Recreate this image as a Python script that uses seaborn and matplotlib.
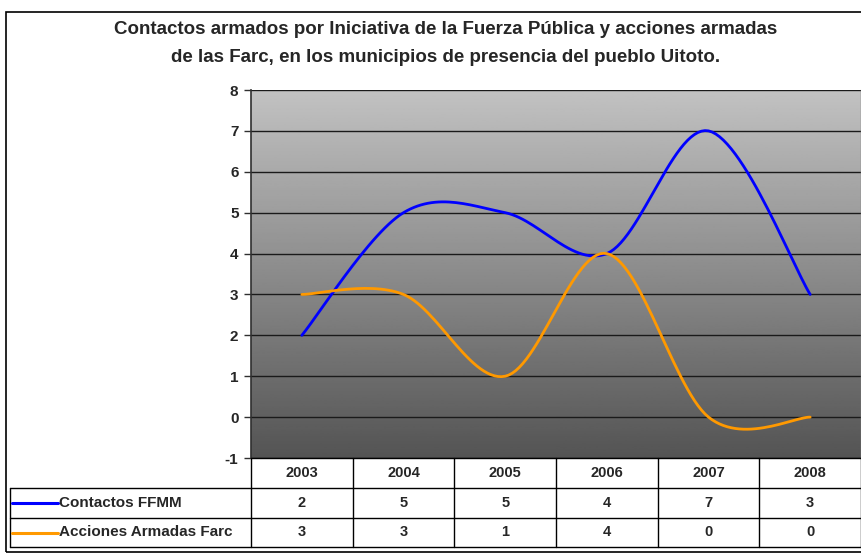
import numpy as np
import pandas as pd
import seaborn as sns
import matplotlib.pyplot as plt
from matplotlib.lines import Line2D
from matplotlib.patches import Rectangle

# data
years = ['2003', '2004', '2005', '2006', '2007', '2008']
contactos = [2, 5, 5, 4, 7, 3]
acciones = [3, 3, 1, 4, 0, 0]
series_names = ['Contactos FFMM', 'Acciones Armadas Farc']
series_colors = ['#0000FF', '#FF9900']
title_lines = ['Contactos armados por Iniciativa de la Fuerza Pública y acciones armadas',
               'de las Farc, en los municipios de presencia del pueblo Uitoto.']

sns.set_style('white')
plt.rcParams['font.family'] = ['Liberation Sans', 'DejaVu Sans']

W, H = 862, 554
fig = plt.figure(figsize=(W / 100, H / 100), dpi=100)


def fx(px):
    return px / W


def fy(py):
    return 1 - py / H


# plot area in pixels
L, R, T, B = 251, 861, 90, 458
ax = fig.add_axes([fx(L), fy(B), fx(R - L), fy(T) - fy(B)])


def smooth(xs, ys, n=30):
    # excel-style smoothed line (catmull-rom bezier)
    p = np.column_stack([xs, ys]).astype(float)
    p = np.vstack([p[0], p, p[-1]])
    out = []
    for i in range(1, len(p) - 2):
        p0, p1, p2, p3 = p[i - 1], p[i], p[i + 1], p[i + 2]
        b1 = p1 + (p2 - p0) / 6
        b2 = p2 - (p3 - p1) / 6
        t = np.linspace(0, 1, n)[:, None]
        seg = ((1 - t) ** 3) * p1 + 3 * ((1 - t) ** 2) * t * b1 + 3 * (1 - t) * t ** 2 * b2 + t ** 3 * p2
        out.append(seg if i == 1 else seg[1:])
    return np.vstack(out)


xpos = np.arange(len(years)) + 0.5
frames = []
for name, vals in zip(series_names, [contactos, acciones]):
    c = smooth(xpos, vals)
    frames.append(pd.DataFrame({'x': c[:, 0], 'y': c[:, 1], 'serie': name}))
df = pd.concat(frames, ignore_index=True)

# gradient background
grad = np.linspace(0.76, 0.33, 256)[:, None]
ax.imshow(grad, cmap='gray', vmin=0, vmax=1, aspect='auto',
          extent=[0, len(years), -1, 8], zorder=0)

for v in range(-1, 9):
    ax.axhline(v, color='#1a1a1a', lw=1.0, zorder=1)

sns.lineplot(data=df, x='x', y='y', hue='serie', palette=series_colors,
             sort=False, estimator=None, units='serie', lw=2.0, ax=ax,
             legend=False, zorder=3)

ax.set_xlim(0, len(years))
ax.set_ylim(-1, 8)
ax.set_xticks([])
ax.set_yticks(range(-1, 9))
ax.set_yticklabels([str(v) for v in range(-1, 9)], fontsize=11, fontweight='bold')
ax.tick_params(axis='y', length=5, width=1, color='#303030', pad=4, left=True)
ax.set_xlabel('')
ax.set_ylabel('')
for s in ['top', 'bottom']:
    ax.spines[s].set_visible(False)
ax.spines['left'].set_color('#303030')
ax.spines['left'].set_linewidth(1.2)
ax.spines['right'].set_color('#808080')
ax.spines['right'].set_linewidth(1.0)

# title, two lines
for ty, line in zip([30, 57], title_lines):
    fig.text(fx(446), fy(ty), line, ha='center', va='center', fontsize=13.5,
             fontweight='bold')

# outer border
fig.patches.append(Rectangle((fx(6), fy(552)), fx(870 - 6), fy(12) - fy(552),
                             transform=fig.transFigure, fill=False,
                             edgecolor='black', lw=1.2))

# data table
col_w = (R - L) / len(years)
rows_y = [458, 488, 518, 547]
TL = 10


def hline(y, x0, x1):
    fig.add_artist(Line2D([fx(x0), fx(x1)], [fy(y), fy(y)], color='black', lw=1.0))


def vline(x, y0, y1):
    fig.add_artist(Line2D([fx(x), fx(x)], [fy(y0), fy(y1)], color='black', lw=1.0))


hline(rows_y[0], L, R)
for y in rows_y[1:]:
    hline(y, TL, R)
vline(TL, rows_y[1], rows_y[3])
for i in range(len(years) + 1):
    vline(L + i * col_w, rows_y[0], rows_y[3])

for i, yr in enumerate(years):
    cx = L + (i + 0.5) * col_w
    fig.text(fx(cx), fy((rows_y[0] + rows_y[1]) / 2), yr, ha='center', va='center',
             fontsize=10.5, fontweight='bold')

for r, (name, vals, col) in enumerate(zip(series_names, [contactos, acciones], series_colors)):
    cy = (rows_y[r + 1] + rows_y[r + 2]) / 2
    fig.add_artist(Line2D([fx(TL + 2), fx(58)], [fy(cy), fy(cy)], color=col, lw=2.2))
    fig.text(fx(59), fy(cy), name, ha='left', va='center', fontsize=11, fontweight='bold')
    for i, v in enumerate(vals):
        cx = L + (i + 0.5) * col_w
        fig.text(fx(cx), fy(cy), str(v), ha='center', va='center',
                 fontsize=10.5, fontweight='bold')

fig.savefig('out.png', dpi=100)
